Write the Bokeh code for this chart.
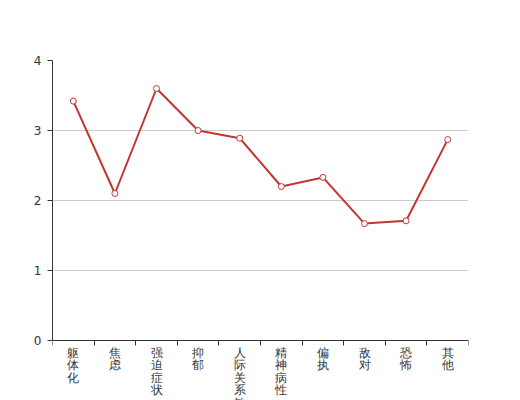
from bokeh.plotting import figure
from bokeh.models import ColumnDataSource, FixedTicker, LabelSet, Range1d
from bokeh.embed import file_html
from bokeh.resources import INLINE

categories = ["躯体化", "焦虑", "强迫症状", "抑郁", "人际关系敏感", "精神病性", "偏执", "敌对", "恐怖", "其他"]
values = [3.42, 2.10, 3.60, 3.00, 2.89, 2.20, 2.33, 1.67, 1.71, 2.87]
y_ticks = [0, 1, 2, 3, 4]

n = len(categories)
xs = [i + 0.5 for i in range(n)]
labels = ["\n".join(list(c)) for c in categories]

src = ColumnDataSource(dict(x=xs, y=values))
lab_src = ColumnDataSource(dict(x=xs, y=[0] * n, text=labels))

p = figure(width=520, height=400, output_backend="svg", toolbar_location=None,
           x_range=Range1d(0, n), y_range=Range1d(-0.857, 4),
           min_border_left=52, min_border_right=52, min_border_top=60, min_border_bottom=0)
p.outline_line_color = None
p.background_fill_color = "white"

p.xgrid.grid_line_color = None
p.ygrid.grid_line_color = "#cccccc"
p.ygrid.ticker = FixedTicker(ticks=y_ticks)

p.yaxis.ticker = FixedTicker(ticks=y_ticks)
p.yaxis.bounds = (0, 4)
p.yaxis.axis_line_color = "#333333"
p.yaxis.major_tick_line_color = "#333333"
p.yaxis.major_tick_out = 5
p.yaxis.major_tick_in = 0
p.yaxis.minor_tick_line_color = None
p.yaxis.major_label_text_font_size = "12px"
p.yaxis.major_label_text_color = "#333333"
p.yaxis.major_label_text_font = "DejaVu Sans"
p.yaxis.major_label_standoff = 6

p.xaxis.fixed_location = 0
p.xaxis.ticker = FixedTicker(ticks=list(range(n + 1)))
p.xaxis.axis_line_color = "#333333"
p.xaxis.major_tick_line_color = "#333333"
p.xaxis.major_tick_out = 5
p.xaxis.major_tick_in = 0
p.xaxis.minor_tick_line_color = None
p.xaxis.major_label_text_font_size = "0px"
p.xaxis.major_label_standoff = 0
p.xaxis.major_label_text_alpha = 0

p.line("x", "y", source=src, line_color="#c23531", line_width=2)
p.scatter("x", "y", source=src, size=6, fill_color="white", line_color="#c23531", line_width=1)

ls = LabelSet(x="x", y="y", text="text", source=lab_src, y_offset=-5,
              text_align="center", text_baseline="top", text_font_size="12px",
              text_color="#333333", text_font="Noto Sans CJK SC", text_line_height=0.9)
p.add_layout(ls)

open("out.html", "w").write(file_html(p, INLINE))
